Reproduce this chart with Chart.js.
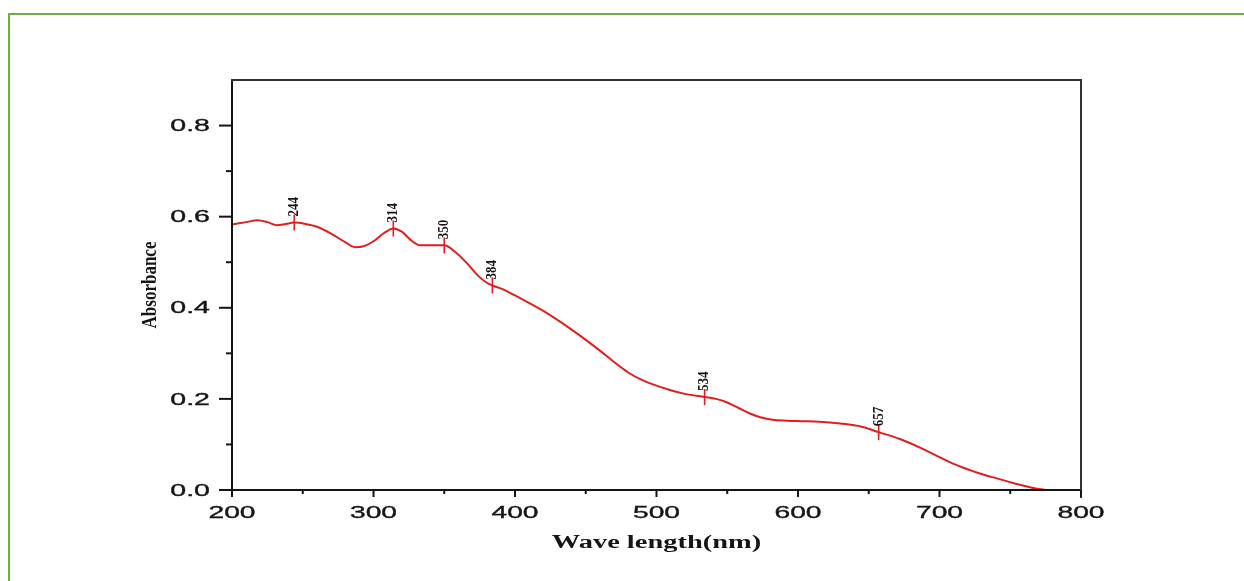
<!DOCTYPE html>
<html>
<head>
<meta charset="utf-8">
<script src="https://cdn.jsdelivr.net/npm/chart.js@4/dist/chart.umd.min.js"></script>
<style>
  html, body { margin: 0; padding: 0; background: #fff; }
  #wrap { position: relative; width: 1244px; height: 581px; }
  #frame { position: absolute; left: 8px; top: 13px; right: 0; bottom: -5px;
           border-left: 2px solid #6fad45; border-top: 2px solid #6fad45; }
  canvas { position: absolute; left: 0; top: 0; }
</style>
</head>
<body>
<div id="wrap">
  <div id="frame"></div>
  <canvas id="c" width="1244" height="581"></canvas>
</div>
<script>
// ---- data ----
const waveLength = [200, 210, 218, 225, 232, 238, 244, 252, 260, 270, 280, 287, 293, 300, 307, 314, 320, 327, 333, 350, 358, 366, 374, 380, 384, 392, 400, 420, 440, 460, 470, 480, 490, 500, 510, 520, 534, 542, 550, 558, 566, 574, 582, 592, 602, 615, 630, 645, 657, 672, 687, 700, 708, 716, 724, 732, 740, 748, 756, 764, 770, 776];
const absorbance = [0.583, 0.588, 0.592, 0.588, 0.581, 0.584, 0.587, 0.584, 0.578, 0.563, 0.544, 0.533, 0.535, 0.546, 0.563, 0.574, 0.567, 0.547, 0.537, 0.537, 0.522, 0.498, 0.470, 0.455, 0.449, 0.440, 0.427, 0.393, 0.352, 0.306, 0.281, 0.258, 0.241, 0.229, 0.219, 0.211, 0.204, 0.200, 0.192, 0.180, 0.168, 0.159, 0.154, 0.152, 0.151, 0.150, 0.146, 0.139, 0.127, 0.112, 0.092, 0.072, 0.060, 0.050, 0.041, 0.033, 0.026, 0.019, 0.012, 0.006, 0.002, 0.0];
const peakLabels = [244, 314, 350, 384, 534, 657];
const xTickLabels = ["200", "300", "400", "500", "600", "700", "800"];
const yTickLabels = ["0.0", "0.2", "0.4", "0.6", "0.8"];
const xMinorTicks = [250, 350, 450, 550, 650, 750];
const yMinorTicks = [0.1, 0.3, 0.5, 0.7];
const xTitle = "Wave length(nm)";
const yTitle = "Absorbance";

const RED = '#e01e1e';
const INK = '#151515';

function drawText(ctx, txt) {
  ctx.lineWidth = 0.35;
  ctx.strokeStyle = INK;
  ctx.strokeText(txt, 0, 0);
  ctx.fillText(txt, 0, 0);
}

const axesPlugin = {
  id: 'axesPlugin',
  afterDatasetsDraw(chart) {
    const ctx = chart.ctx;
    const xs = chart.scales.x, ys = chart.scales.y;
    const a = chart.chartArea;
    ctx.save();
    // peak markers and labels
    peakLabels.forEach(p => {
      const i = waveLength.indexOf(p);
      const px = xs.getPixelForValue(p);
      const py = ys.getPixelForValue(absorbance[i]);
      ctx.strokeStyle = RED;
      ctx.lineWidth = 1.6;
      ctx.beginPath();
      ctx.moveTo(px, py - 8);
      ctx.lineTo(px, py + 8);
      ctx.stroke();
      ctx.save();
      ctx.translate(px, py - 6);
      ctx.rotate(-Math.PI / 2);
      ctx.scale(1, 1.15);
      ctx.fillStyle = INK;
      ctx.font = 'bold 13px "Liberation Serif", "Times New Roman", serif';
      ctx.textAlign = 'left';
      ctx.textBaseline = 'middle';
      ctx.fillText(String(p), 0, 0);
      ctx.restore();
    });

    // frame
    ctx.strokeStyle = INK;
    ctx.lineWidth = 2;
    ctx.beginPath();
    ctx.moveTo(a.left, a.top);
    ctx.lineTo(a.left, a.bottom);
    ctx.lineTo(a.right, a.bottom);
    ctx.stroke();
    ctx.strokeStyle = '#333';
    ctx.beginPath();
    ctx.moveTo(a.left - 1, a.top);
    ctx.lineTo(a.right, a.top);
    ctx.lineTo(a.right, a.bottom + 8);
    ctx.stroke();

    // y ticks
    yTickLabels.forEach(t => {
      const y = ys.getPixelForValue(parseFloat(t));
      ctx.strokeStyle = INK; ctx.lineWidth = 2;
      ctx.beginPath(); ctx.moveTo(a.left - 13, y); ctx.lineTo(a.left, y); ctx.stroke();
      ctx.save();
      ctx.translate(a.left - 22, y + 1);
      ctx.scale(1.68, 1);
      ctx.fillStyle = INK;
      ctx.font = '17px "Liberation Sans", Arial, sans-serif';
      ctx.textAlign = 'right';
      ctx.textBaseline = 'middle';
      drawText(ctx, t);
      ctx.restore();
    });
    ctx.strokeStyle = INK; ctx.lineWidth = 2;
    yMinorTicks.forEach(v => {
      const y = ys.getPixelForValue(v);
      ctx.beginPath(); ctx.moveTo(a.left - 6, y); ctx.lineTo(a.left, y); ctx.stroke();
    });
    // x ticks
    xTickLabels.forEach(t => {
      const x = xs.getPixelForValue(parseFloat(t));
      ctx.strokeStyle = INK; ctx.lineWidth = 2;
      ctx.beginPath(); ctx.moveTo(x, a.bottom); ctx.lineTo(x, a.bottom + 7); ctx.stroke();
      ctx.save();
      ctx.translate(x, a.bottom + 23);
      ctx.scale(1.66, 1);
      ctx.fillStyle = INK;
      ctx.font = '17px "Liberation Sans", Arial, sans-serif';
      ctx.textAlign = 'center';
      ctx.textBaseline = 'middle';
      drawText(ctx, t);
      ctx.restore();
    });
    ctx.strokeStyle = INK; ctx.lineWidth = 2;
    xMinorTicks.forEach(v => {
      const x = xs.getPixelForValue(v);
      ctx.beginPath(); ctx.moveTo(x, a.bottom); ctx.lineTo(x, a.bottom + 4); ctx.stroke();
    });

    // titles
    ctx.fillStyle = INK;
    ctx.save();
    ctx.translate((a.left + a.right) / 2, a.bottom + 53);
    ctx.scale(1.58, 1);
    ctx.font = 'bold 18px "Liberation Serif", "Times New Roman", serif';
    ctx.textAlign = 'center';
    ctx.textBaseline = 'middle';
    ctx.fillText(xTitle, 0, 0);
    ctx.restore();

    ctx.save();
    ctx.translate(151, (a.top + a.bottom) / 2);
    ctx.rotate(-Math.PI / 2);
    ctx.scale(1, 1.2);
    ctx.font = 'bold 17px "Liberation Serif", "Times New Roman", serif';
    ctx.textAlign = 'center';
    ctx.textBaseline = 'middle';
    ctx.fillText(yTitle, 0, 0);
    ctx.restore();
    ctx.restore();
  }
};

new Chart(document.getElementById('c'), {
  type: 'line',
  data: {
    datasets: [{
      data: waveLength.map((w, i) => ({ x: w, y: absorbance[i] })),
      borderColor: RED,
      borderWidth: 2,
      pointRadius: 0,
      cubicInterpolationMode: 'monotone',
      fill: false
    }]
  },
  options: {
    responsive: false,
    animation: false,
    devicePixelRatio: 1,
    layout: { padding: { left: 232, right: 163, top: 80, bottom: 91 } },
    plugins: { legend: { display: false }, tooltip: { enabled: false } },
    scales: {
      x: { type: 'linear', min: 200, max: 800, display: false },
      y: { type: 'linear', min: 0, max: 0.9, display: false }
    }
  },
  plugins: [axesPlugin]
});
</script>
</body>
</html>
